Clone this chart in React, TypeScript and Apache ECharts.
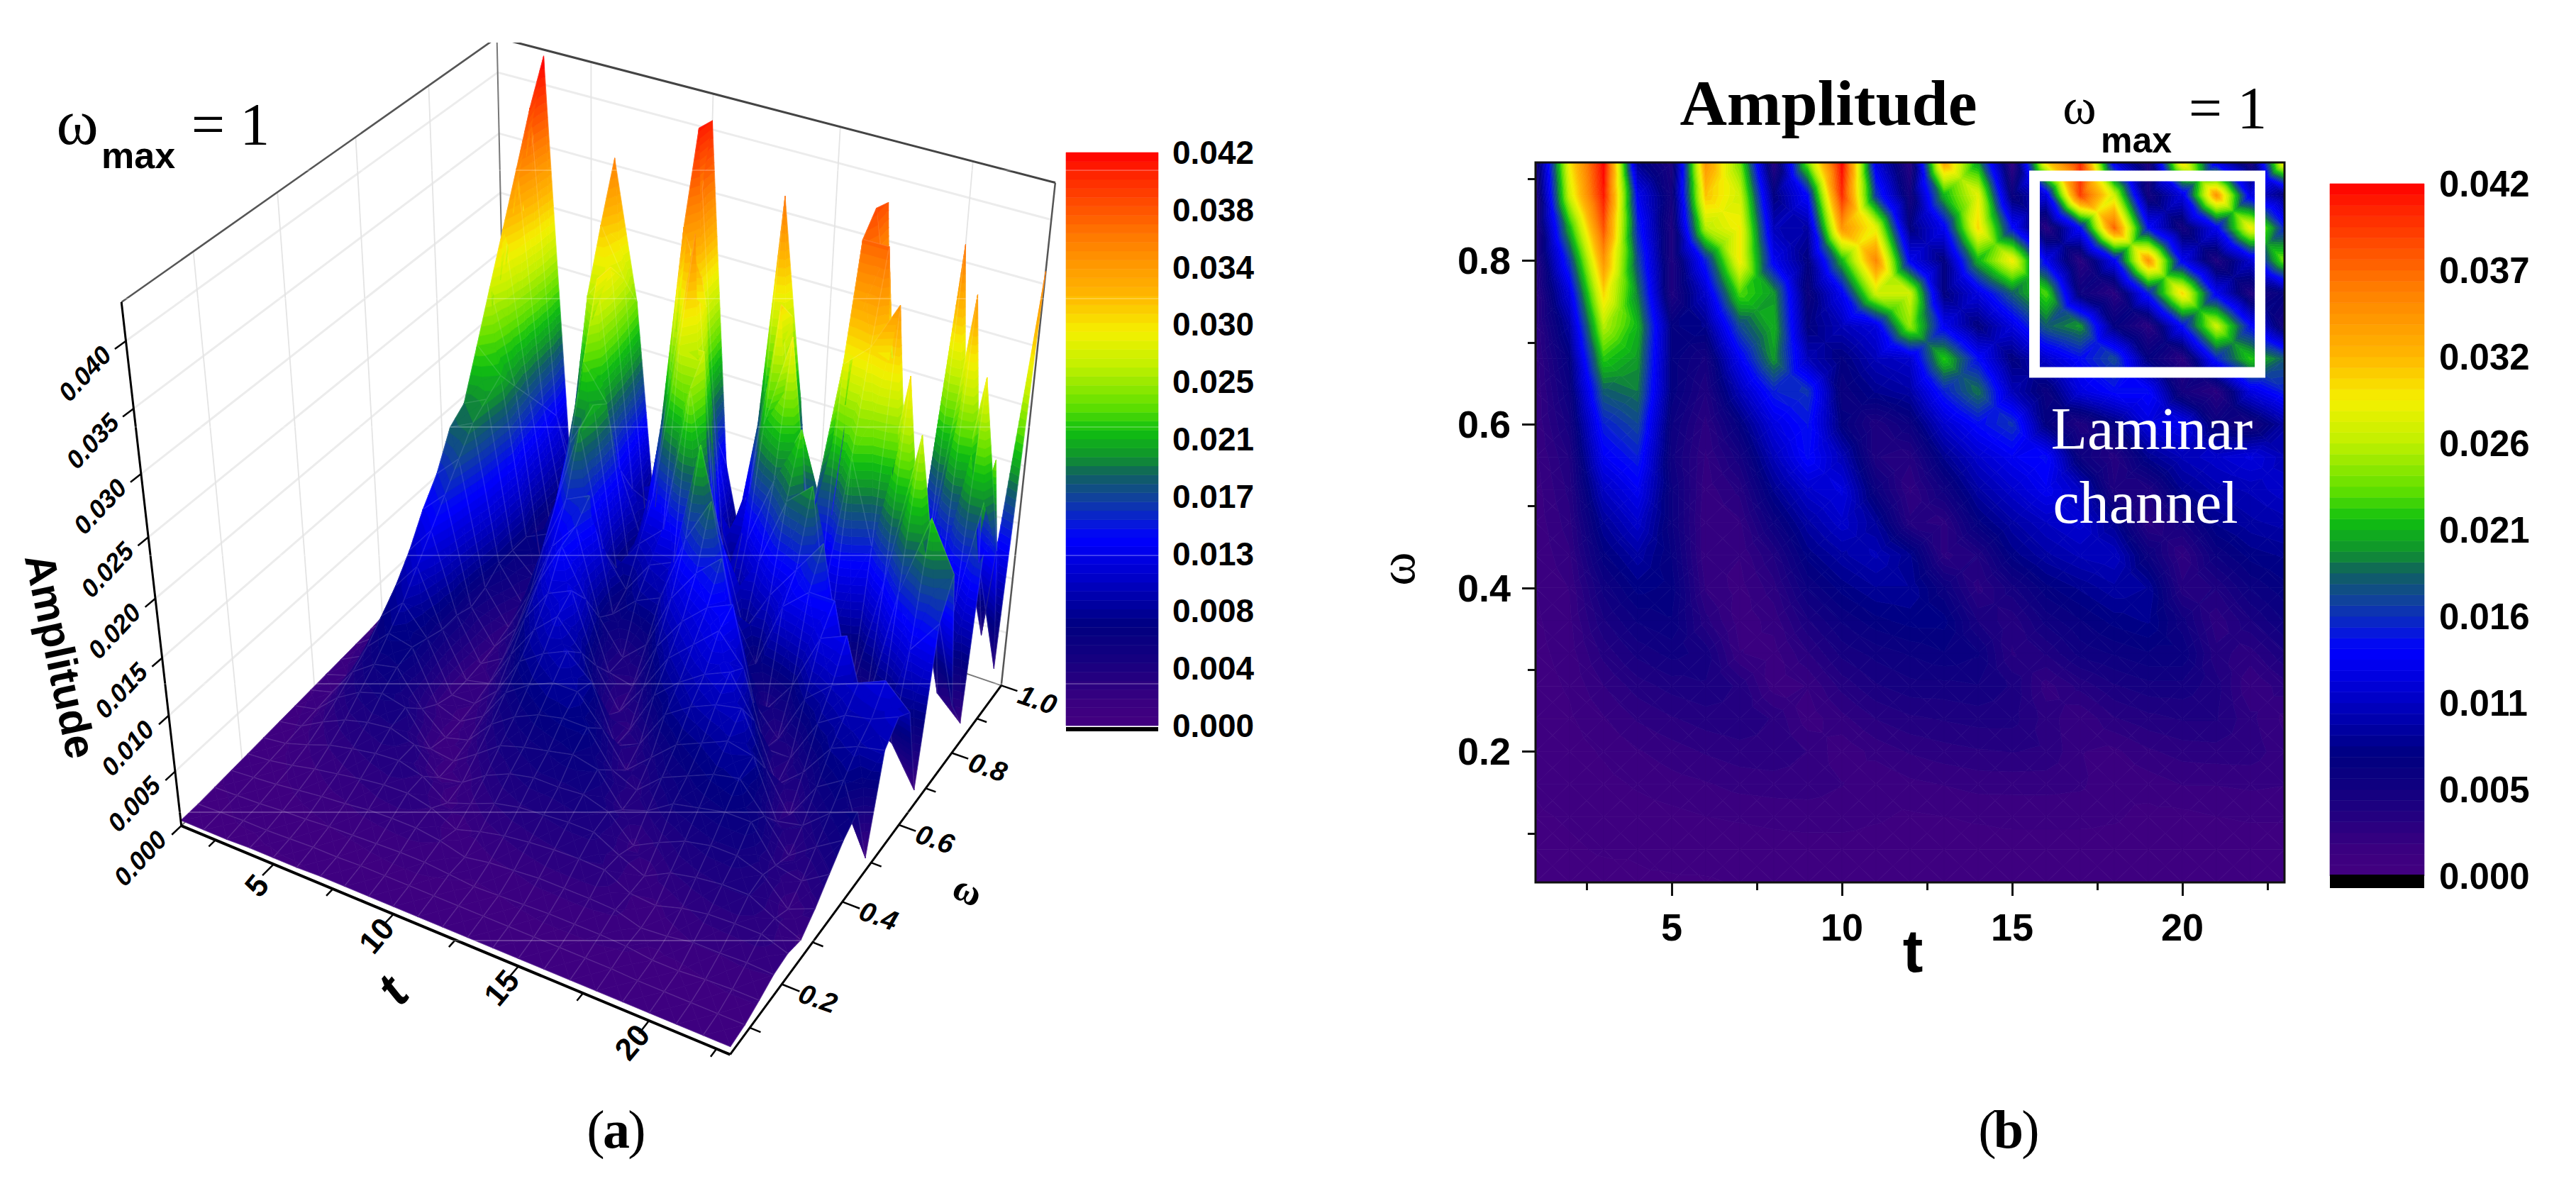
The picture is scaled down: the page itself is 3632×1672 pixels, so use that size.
import React, { useEffect, useRef } from "react";
import * as echarts from "echarts";

const tValues = [1, 2, 3, 4, 5, 6, 7, 8, 9, 10, 11, 12, 13, 14, 15, 16, 17, 18, 19, 20, 21, 22, 23];
const omegaHeatmap = [0.92, 0.88, 0.84, 0.8, 0.76, 0.72, 0.68, 0.64, 0.6, 0.56, 0.52, 0.48, 0.44, 0.4, 0.36, 0.32, 0.28, 0.24, 0.2, 0.16, 0.12, 0.08, 0.04];
const omegaSurface = [1, 0.956, 0.913, 0.869, 0.825, 0.782, 0.738, 0.695, 0.651, 0.607, 0.564, 0.52, 0.476, 0.433, 0.389, 0.345, 0.302, 0.258, 0.215, 0.171, 0.127, 0.084, 0.04];

// amplitude x 1000, one row per omega
const amplitude = [
  [4, 29, 42, 8, 4, 34, 24, 3, 24, 42, 12, 3, 33, 20, 2, 30, 40, 12, 4, 30, 12, 4, 30],
  [3, 27, 41, 13, 5, 31, 27, 7, 14, 40, 16, 5, 21, 28, 6, 12, 39, 27, 5, 12, 34, 12, 7],
  [3, 21, 38, 15, 4, 26, 29, 10, 9, 34, 28, 7, 13, 30, 14, 3, 14, 37, 14, 5, 13, 29, 15],
  [3, 16, 34, 17, 4, 15, 29, 13, 7, 21, 35, 13, 7, 21, 29, 13, 3, 13, 34, 13, 4, 11, 24],
  [2.5, 12, 30, 19, 4, 11, 23, 20, 6, 13, 27, 27, 7, 12, 18, 23, 6, 3, 15, 30, 13, 4, 7],
  [2.5, 9, 26, 21, 7, 8, 17, 21, 7, 10, 12, 25, 13, 7, 12, 18, 20, 7, 3, 14, 27, 14, 5],
  [2.2, 7, 22, 20, 7, 5, 13, 20, 10, 7, 10, 11, 22, 14, 7, 11, 14, 17, 7, 3, 15, 22, 18],
  [2, 6, 18, 19, 7, 4, 10, 15, 16, 6, 8, 9, 15, 19, 10, 6, 12, 14, 14, 5, 3, 12, 15],
  [2, 5, 15, 17, 6, 3, 7, 12, 14.5, 7, 4, 6, 11, 14, 16, 7, 4, 7, 12, 13, 6, 5, 9],
  [1.8, 4, 13, 15, 5.5, 2.5, 5, 10, 14, 10, 4, 3.5, 8, 11, 13, 14, 6, 3.5, 8, 10, 11, 12, 10],
  [1.6, 3.5, 10.5, 13, 6, 2.2, 3.5, 8, 11, 12, 6, 2.5, 5.5, 9, 11, 13, 10.5, 4, 4, 8, 9.5, 10, 11],
  [1.5, 3, 8.5, 11, 6, 2, 2.5, 6, 9, 11, 8.5, 3.5, 3, 7, 9, 10.5, 11.5, 8, 3, 5, 8, 9, 9.5],
  [1.4, 2.5, 7, 9, 6.5, 2, 2, 4, 7.5, 9, 10, 8, 3, 4, 7.5, 9, 10, 10.5, 6, 2.5, 6, 7.5, 8],
  [1.3, 2, 5.5, 7.5, 7, 2.5, 1.7, 3, 6, 7.5, 8.5, 8.5, 6, 3, 5, 7, 8, 9, 8.5, 3.5, 4, 6, 7],
  [1.2, 1.8, 4.5, 6, 6.5, 3.5, 1.6, 2.2, 4.5, 6, 7, 7.5, 7.5, 4.5, 3.5, 5.5, 6.5, 7.5, 8, 5.5, 2.8, 4.5, 6],
  [1.1, 1.6, 3.5, 4.8, 5.5, 5, 2, 1.7, 3.2, 4.8, 5.5, 6, 6.5, 6, 3.2, 4, 5.5, 6, 6.5, 6.5, 3.5, 3, 4.5],
  [1, 1.4, 2.6, 3.6, 4.2, 4.5, 3.8, 1.6, 2, 3.5, 4.5, 5, 5, 5.2, 4.5, 2.3, 3.5, 4.5, 5, 5, 4.2, 2, 3],
  [0.9, 1.2, 1.9, 2.7, 3.2, 3.6, 3.8, 3.2, 1.6, 2.4, 3.3, 3.8, 4, 4.2, 4.2, 3, 2, 3.2, 3.7, 4, 4, 2.8, 1.8],
  [0.8, 1, 1.4, 1.9, 2.3, 2.7, 3, 3.1, 2.6, 1.5, 2.2, 2.7, 3, 3.2, 3.3, 3.2, 2, 1.8, 2.5, 2.9, 3, 3, 2.2],
  [0.7, 0.9, 1.1, 1.4, 1.7, 1.9, 2.2, 2.3, 2.3, 2, 1.4, 1.8, 2, 2.2, 2.2, 2.2, 2.1, 1.4, 1.6, 2, 2, 2.1, 2],
  [0.6, 0.7, 0.8, 1, 1.1, 1.3, 1.4, 1.5, 1.6, 1.6, 1.4, 1.2, 1.3, 1.4, 1.5, 1.5, 1.5, 1.4, 1.1, 1.1, 1.3, 1.4, 1.4],
  [0.5, 0.6, 0.7, 0.7, 0.8, 0.9, 0.9, 1, 1, 1, 1, 1, 1, 1, 1, 1, 1, 1, 0.9, 0.9, 0.9, 0.9, 0.9],
  [0.5, 0.5, 0.5, 0.6, 0.6, 0.6, 0.7, 0.7, 0.7, 0.7, 0.7, 0.7, 0.7, 0.7, 0.7, 0.7, 0.7, 0.7, 0.7, 0.7, 0.7, 0.7, 0.7],
];
// where panel (a)'s surface reads differently from panel (b): [row, t, amplitude x 1000]
const surfaceReadings = [
  [0, 3, 42.3], [0, 6, 35.6], [0, 10, 40.7], [0, 13, 36.3], [0, 17, 38], [0, 20, 36.4], [0, 23, 36],
  [1, 3, 39], [1, 10, 41], [1, 17, 38.5], [1, 21, 34], [1, 23, 3],
  [2, 3, 35], [2, 17, 37], [3, 3, 31], [3, 17, 28], [3, 18, 30],
  [4, 3, 27], [4, 18, 22], [4, 23, 2], [5, 3, 23], [6, 3, 19], [8, 23, 1.5], [12, 23, 1.3],
];
const amplitudeSurface = amplitude.map((r) => r.slice());
surfaceReadings.forEach(([r, t, v]) => { amplitudeSurface[r][t - 1] = v; });

const colorbarLabelsA = ["0.000", "0.004", "0.008", "0.013", "0.017", "0.021", "0.025", "0.030", "0.034", "0.038", "0.042"];
const colorbarLabelsB = ["0.000", "0.005", "0.011", "0.016", "0.021", "0.026", "0.032", "0.037", "0.042"];

// colour ramp: [amplitude x 1000, r, g, b]
const colorStops = [
  [0, 66, 0, 128], [1.5, 60, 0, 128], [4.4, 26, 0, 128], [7.3, 0, 0, 128], [10.8, 0, 0, 200], [13.7, 0, 0, 255],
  [16.6, 16, 64, 160], [18.4, 16, 96, 96], [19.6, 16, 144, 48], [21.6, 16, 192, 16], [23.4, 96, 224, 0], [26.3, 192, 240, 0],
  [28.9, 245, 240, 0], [31.5, 255, 184, 0], [35.5, 255, 128, 0], [40.6, 255, 32, 0], [42, 255, 0, 0],
];
const BAND_COUNT = 64;
const BAND = 42 / BAND_COUNT;

function ramp(v: number) {
  for (let i = 1; i < colorStops.length; i++) {
    const a = colorStops[i - 1], b = colorStops[i];
    if (v <= b[0]) {
      const f = (v - a[0]) / (b[0] - a[0] || 1);
      const c = [1, 2, 3].map((k) => Math.round(a[k] + (b[k] - a[k]) * Math.max(0, f)));
      return `rgb(${c[0]},${c[1]},${c[2]})`;
    }
  }
  return "rgb(255,0,0)";
}

type V = number[]; // [t, omega, amp]
function clip(poly: V[], level: number, keepAbove: boolean) {
  const out: V[] = [];
  for (let i = 0; i < poly.length; i++) {
    const p = poly[i], q = poly[(i + 1) % poly.length];
    const pin = keepAbove ? p[2] >= level : p[2] <= level;
    const qin = keepAbove ? q[2] >= level : q[2] <= level;
    if (pin) out.push(p);
    if (pin !== qin) {
      const f = (level - p[2]) / (q[2] - p[2]);
      out.push([p[0] + (q[0] - p[0]) * f, p[1] + (q[1] - p[1]) * f, level]);
    }
  }
  return out;
}
function bands(tri: V[]) {
  const vals = tri.map((p) => p[2]);
  const lo = Math.floor(Math.min(...vals) / BAND), hi = Math.floor(Math.max(...vals) / BAND);
  const res: { pts: V[]; color: string }[] = [];
  for (let b = lo; b <= hi; b++) {
    let poly = clip(tri, b * BAND, true);
    if (poly.length) poly = clip(poly, (b + 1) * BAND, false);
    if (poly.length >= 3) res.push({ pts: poly, color: ramp((b + 0.5) * BAND) });
  }
  return res;
}
function triangles(omegas: number[], rows: number[][]) {
  const out: { v: V[]; edge: V[]; band: { pts: V[]; color: string }[] }[] = [];
  for (let i = 0; i < omegas.length - 1; i++) {
    for (let j = 0; j < tValues.length - 1; j++) {
      const a = [tValues[j], omegas[i], rows[i][j]];
      const b = [tValues[j + 1], omegas[i], rows[i][j + 1]];
      const c = [tValues[j + 1], omegas[i + 1], rows[i + 1][j + 1]];
      const d = [tValues[j], omegas[i + 1], rows[i + 1][j]];
      const m = [0, 1, 2].map((k) => (a[k] + b[k] + c[k] + d[k]) / 4);
      [[a, b], [b, c], [c, d], [d, a]].forEach(([p, q]) => {
        const v = [p, q, m];
        out.push({ v, edge: [p, q], band: bands(v) });
      });
    }
  }
  return out;
}

// ---- projection of the 3D box (a), fitted to where its corners and ticks sit in the picture
const OM0 = 0.04, OM1 = 1.0, T0 = 1, T1 = 23, ZTOP = 42.8;
const nx = (t: number) => (t - T0) / (T1 - T0);
const ny = (w: number) => (w - OM0) / (OM1 - OM0);
const nz = (z: number) => z / ZTOP;
const anchors: number[][] = [
  [0, 0, 0, 257, 1165], [1, 0, 0, 1027, 1485], [1, 1, 0, 1410, 965], [0, 0, 1, 172, 426], [0, 1, 1, 700, 50], [1, 1, 1, 1490, 256],
  [nx(5), 0, 0, 385, 1218], [nx(10), 0, 0, 553, 1289], [nx(15), 0, 0, 729, 1362], [nx(20), 0, 0, 911, 1440],
  [1, ny(0.2), 0, 1108, 1386], [1, ny(0.4), 0, 1188, 1274], [1, ny(0.6), 0, 1269, 1162], [1, ny(0.8), 0, 1343, 1061],
  [0, 0, nz(10), 241, 1013], [0, 0, nz(20), 218, 842], [0, 0, nz(30), 201, 666], [0, 0, nz(40), 176, 480],
  [nx(5), 1, 1, 833, 87], [nx(10), 1, 1, 1005, 135], [nx(15), 1, 1, 1183, 180], [nx(20), 1, 1, 1372, 230],
];
function fitCamera() {
  const n = 11;
  const A = Array.from({ length: n }, () => new Array(n + 1).fill(0));
  const add = (row: number[], rhs: number) => {
    for (let i = 0; i < n; i++) {
      for (let j = 0; j < n; j++) A[i][j] += row[i] * row[j];
      A[i][n] += row[i] * rhs;
    }
  };
  anchors.forEach(([X, Y, Z, px, py]) => {
    const u = px / 1000, v = py / 1000;
    add([X, Y, Z, 1, 0, 0, 0, 0, -u * X, -u * Y, -u * Z], u);
    add([0, 0, 0, 0, X, Y, Z, 1, -v * X, -v * Y, -v * Z], v);
  });
  for (let c = 0; c < n; c++) {
    let piv = c;
    for (let r = c + 1; r < n; r++) if (Math.abs(A[r][c]) > Math.abs(A[piv][c])) piv = r;
    [A[c], A[piv]] = [A[piv], A[c]];
    for (let r = 0; r < n; r++) {
      if (r === c) continue;
      const f = A[r][c] / A[c][c];
      for (let k = c; k <= n; k++) A[r][k] -= f * A[c][k];
    }
  }
  return A.map((r, i) => r[n] / r[i]);
}
const cam = fitCamera();
const camW = (X: number, Y: number, Z: number) => cam[8] * X + cam[9] * Y + cam[10] * Z + 1;
function project(X: number, Y: number, Z: number) {
  const w = camW(X, Y, Z);
  return [
    (1000 * (cam[0] * X + cam[1] * Y + cam[2] * Z + cam[3])) / w,
    (1000 * (cam[4] * X + cam[5] * Y + cam[6] * Z + cam[7])) / w,
  ];
}
const projV = (p: V) => project(nx(p[0]), ny(p[1]), nz(p[2]));

const trisB = triangles(omegaHeatmap, amplitude);
const farSign = camW(0, 1, 0) > camW(1, 0, 0) ? -1 : 1;
const trisA = triangles(omegaSurface, amplitudeSurface).map((tr) => {
  const w = tr.v.reduce((s, p) => s + camW(nx(p[0]), ny(p[1]), nz(p[2])), 0) / 3;
  return { ...tr, depth: w * farSign };
}).sort((a, b) => a.depth - b.depth);

type Seg = { a: number[]; b: number[]; color: string; width: number };
const wallSegs: Seg[] = [];
const axisSegs: Seg[] = [];
const zTicks = [5, 10, 15, 20, 25, 30, 35, 40];
const tTicks = [5, 10, 15, 20];
const tMinor = [2.5, 7.5, 12.5, 17.5, 22.5];
const omegaTicks = [0.2, 0.4, 0.6, 0.8, 1.0];
const omegaMinor = [0.1, 0.3, 0.5, 0.7, 0.9];
zTicks.forEach((z) => {
  wallSegs.push({ a: [0, 0, nz(z)], b: [0, 1, nz(z)], color: "#ececec", width: 3 });
  wallSegs.push({ a: [0, 1, nz(z)], b: [1, 1, nz(z)], color: "#ececec", width: 3 });
  axisSegs.push({ a: [0, 0, nz(z)], b: [0, -0.025, nz(z)], color: "#000", width: 2.5 });
});
axisSegs.push({ a: [0, 0, 0], b: [0, -0.025, 0], color: "#000", width: 2.5 });
tTicks.forEach((t) => {
  wallSegs.push({ a: [nx(t), 1, 0], b: [nx(t), 1, 1], color: "#e4e4e4", width: 1.8 });
  axisSegs.push({ a: [nx(t), 0, 0], b: [nx(t), -0.03, 0], color: "#000", width: 2.5 });
});
tMinor.forEach((t) => axisSegs.push({ a: [nx(t), 0, 0], b: [nx(t), -0.018, 0], color: "#000", width: 2.5 }));
omegaTicks.forEach((w) => {
  if (w < 1) wallSegs.push({ a: [0, ny(w), 0], b: [0, ny(w), 1], color: "#e4e4e4", width: 1.8 });
  axisSegs.push({ a: [1, ny(w), 0], b: [1.03, ny(w), 0], color: "#000", width: 2.5 });
});
omegaMinor.forEach((w) => axisSegs.push({ a: [1, ny(w), 0], b: [1.018, ny(w), 0], color: "#000", width: 2.5 }));
wallSegs.push({ a: [0, 1, 1], b: [0, 1, 0], color: "#777", width: 2 });
wallSegs.push({ a: [0, 1, 0], b: [1, 1, 0], color: "#777", width: 2 });
wallSegs.push({ a: [0, 1, 0], b: [0, 0, 0], color: "#777", width: 2 });
wallSegs.push({ a: [0, 0, 1], b: [0, 1, 1], color: "#555", width: 2.5 });
wallSegs.push({ a: [0, 1, 1], b: [1, 1, 1], color: "#444", width: 3 });
wallSegs.push({ a: [1, 1, 1], b: [1, 1, 0], color: "#555", width: 2.5 });
axisSegs.push({ a: [0, 0, 0], b: [0, 0, 1], color: "#000", width: 3 });
axisSegs.push({ a: [0, 0, 0], b: [1, 0, 0], color: "#000", width: 4 });
axisSegs.push({ a: [1, 0, 0], b: [1, 1, 0], color: "#000", width: 3 });

const SANS = '"Liberation Sans", Arial, sans-serif';
const SERIF = '"Liberation Serif", "Times New Roman", serif';
function txt(text: string, x: number, y: number, size: number, family: string, o: any = {}) {
  return {
    type: "text", x, y, rotation: o.rotation || 0, z: 60, silent: true,
    style: {
      text, fontSize: size, fontFamily: family, fontWeight: o.weight || "normal", fontStyle: o.italic ? "italic" : "normal",
      fill: o.fill || "#000", textAlign: o.align || "center", textVerticalAlign: "middle",
    },
  };
}
const D2R = Math.PI / 180;

function graphics() {
  const g: any[] = [];
  // mask where the box corner leaves the picture
  g.push({ type: "rect", z: 55, silent: true, shape: { x: 600, y: 0, width: 200, height: 60 }, style: { fill: "#fff" } });
  // (a) titles
  g.push(txt("ω", 109, 172, 90, SERIF));
  g.push(txt("max", 143, 219, 52, SANS, { weight: "bold", align: "left" }));
  g.push(txt("= 1", 325, 175, 84, SERIF));
  g.push(txt("Amplitude", 85, 925, 60, SANS, { weight: "bold", rotation: -78 * D2R }));
  // z tick labels
  [0, ...zTicks].forEach((z) => {
    const p = project(0, 0, nz(z));
    g.push(txt((z / 1000).toFixed(3), p[0] - 58, p[1] + 46, 36, SANS, { weight: "bold", italic: true, rotation: 47 * D2R }));
  });
  tTicks.forEach((t) => {
    const p = project(nx(t), 0, 0);
    g.push(txt(String(t), p[0] - 24, p[1] + 30, 44, SANS, { weight: "bold", rotation: 50 * D2R }));
  });
  g.push(txt("t", 553, 1396, 72, SANS, { weight: "bold", italic: true, rotation: 50 * D2R }));
  omegaTicks.forEach((w) => {
    const p = project(1, ny(w), 0);
    g.push(txt(w.toFixed(1), p[0] + 51, p[1] + 20, 39, SANS, { weight: "bold", italic: true, rotation: -19 * D2R }));
  });
  g.push(txt("ω", 1365, 1255, 54, SERIF, { weight: "bold", rotation: -25 * D2R }));
  g.push({ type: "rect", z: 40, silent: true, shape: { x: 1503, y: 1025, width: 130, height: 6 }, style: { fill: "#000" } });
  g.push(txt("(", 840, 1592, 76, SERIF));
  g.push(txt("a", 869, 1592, 76, SERIF, { weight: "bold" }));
  g.push(txt(")", 898, 1592, 76, SERIF));
  // scan seams that cross panel (a)
  [240, 421, 602, 783, 964, 1145, 1326].forEach((y) =>
    g.push({ type: "line", z: 50, silent: true, shape: { x1: 150, y1: y, x2: 1640, y2: y }, style: { stroke: "rgba(255,255,255,0.3)", lineWidth: 1.5 } })
  );
  // (b)
  g.push({ type: "rect", z: 45, silent: true, shape: { x: 2165, y: 229, width: 1056, height: 1015 }, style: { fill: "none", stroke: "#111", lineWidth: 3 } });
  g.push(txt("Amplitude", 2578, 145, 92, SERIF, { weight: "bold" }));
  g.push(txt("ω", 2932, 150, 72, SERIF));
  g.push(txt("max", 2962, 198, 50, SANS, { weight: "bold", align: "left" }));
  g.push(txt("= 1", 3141, 152, 84, SERIF));
  g.push(txt("t", 2697, 1340, 86, SANS, { weight: "bold" }));
  g.push(txt("ω", 1970, 802, 72, SERIF, { rotation: 90 * D2R }));
  g.push({ type: "rect", z: 50, silent: true, shape: { x: 2868.5, y: 248, width: 318, height: 277 }, style: { fill: "none", stroke: "#fff", lineWidth: 15 } });
  g.push(txt("Laminar", 3034, 604, 84, SERIF, { fill: "#fff" }));
  g.push(txt("channel", 3025, 708, 84, SERIF, { fill: "#fff" }));
  g.push({ type: "rect", z: 40, silent: true, shape: { x: 3285, y: 1233, width: 133, height: 19 }, style: { fill: "#000" } });
  g.push(txt("(", 2802, 1592, 76, SERIF));
  g.push(txt("b", 2832, 1592, 76, SERIF, { weight: "bold" }));
  g.push(txt(")", 2863, 1592, 76, SERIF));
  return g;
}

const bandEdges = Array.from({ length: BAND_COUNT }, (_, i) => i);

function colorbarSeries(xAxisIndex: number, yAxisIndex: number) {
  return {
    type: "custom", xAxisIndex, yAxisIndex, silent: true, z: 3,
    data: bandEdges.map((b) => [0, ((b + 0.5) * BAND) / 1000]),
    renderItem: (params: any, api: any) => {
      const b = bandEdges[params.dataIndex];
      const p0 = api.coord([0, (b * BAND) / 1000]);
      const p1 = api.coord([1, ((b + 1) * BAND) / 1000]);
      const c = ramp((b + 0.5) * BAND);
      return { type: "rect", shape: { x: p0[0], y: p1[1], width: p1[0] - p0[0], height: p0[1] - p1[1] }, style: { fill: c, stroke: c, lineWidth: 0.6 } };
    },
  };
}

function hiddenAxis(gridIndex: number, extra: any = {}) {
  return { type: "value", gridIndex, min: 0, max: 1, show: false, ...extra };
}

const axisFont = { fontFamily: SANS, fontWeight: "bold", color: "#000" };

function buildOption() {
  return {
    animation: false,
    backgroundColor: "#fff",
    graphic: { elements: graphics() },
    grid: [
      { left: 1503, top: 215, width: 130, height: 808 },
      { left: 3285, top: 259, width: 133, height: 976 },
      { left: 2165, top: 229, width: 1056, height: 1015 },
    ],
    xAxis: [
      hiddenAxis(0),
      hiddenAxis(1),
      {
        type: "value", gridIndex: 2, position: "bottom", min: 1, max: 23, splitLine: { show: false },
        axisLine: { show: false },
        axisTick: { show: true, length: 19, inside: false, customValues: tTicks, lineStyle: { color: "#111", width: 3 } },
        axisLabel: { show: true, customValues: tTicks, margin: 36, fontSize: 54, ...axisFont },
      },
      {
        type: "value", gridIndex: 2, position: "bottom", min: 1, max: 23, splitLine: { show: false },
        axisLine: { show: false },
        axisTick: { show: true, length: 11, customValues: tMinor, lineStyle: { color: "#111", width: 3 } },
        axisLabel: { show: false },
      },
    ],
    yAxis: [
      {
        type: "value", gridIndex: 0, position: "right", min: 0, max: 0.042, interval: 0.0042, splitLine: { show: false },
        axisLine: { show: false }, axisTick: { show: false },
        axisLabel: { margin: 20, fontSize: 46, ...axisFont, formatter: (_: number, i: number) => colorbarLabelsA[i] },
      },
      {
        type: "value", gridIndex: 1, position: "right", min: 0, max: 0.042, interval: 0.00525, splitLine: { show: false },
        axisLine: { show: false }, axisTick: { show: false },
        axisLabel: { margin: 21, fontSize: 51, ...axisFont, formatter: (_: number, i: number) => colorbarLabelsB[i] },
      },
      {
        type: "value", gridIndex: 2, position: "left", min: 0.04, max: 0.92, splitLine: { show: false },
        axisLine: { show: false },
        axisTick: { show: true, length: 19, customValues: [0.2, 0.4, 0.6, 0.8], lineStyle: { color: "#111", width: 3 } },
        axisLabel: { show: true, customValues: [0.2, 0.4, 0.6, 0.8], margin: 35, fontSize: 54, ...axisFont, formatter: (v: number) => v.toFixed(1) },
      },
      {
        type: "value", gridIndex: 2, position: "left", min: 0.04, max: 0.92, splitLine: { show: false },
        axisLine: { show: false },
        axisTick: { show: true, length: 11, customValues: omegaMinor, lineStyle: { color: "#111", width: 3 } },
        axisLabel: { show: false },
      },
    ],
    series: [
      colorbarSeries(0, 0),
      colorbarSeries(1, 1),
      {
        type: "custom", name: "Amplitude (b)", xAxisIndex: 2, yAxisIndex: 2, silent: true, z: 2,
        encode: { x: 0, y: 1 },
        data: trisB.map((tr) => [tr.v[2][0], tr.v[2][1], tr.v[2][2] / 1000]),
        renderItem: (params: any, api: any) => {
          const tr = trisB[params.dataIndex];
          return {
            type: "group",
            children: tr.band.map((b) => ({
              type: "polygon",
              shape: { points: b.pts.map((p) => api.coord([p[0], p[1]])) },
              style: { fill: b.color, stroke: b.color, lineWidth: 0.7 },
            })),
          };
        },
      },
      {
        type: "custom", name: "walls", coordinateSystem: "none", silent: true, z: 1,
        data: wallSegs.map((_, i) => [i]),
        renderItem: (params: any) => {
          const s = wallSegs[params.dataIndex];
          const a = project(s.a[0], s.a[1], s.a[2]), b = project(s.b[0], s.b[1], s.b[2]);
          return { type: "line", shape: { x1: a[0], y1: a[1], x2: b[0], y2: b[1] }, style: { stroke: s.color, lineWidth: s.width } };
        },
      },
      {
        type: "custom", name: "Amplitude (a)", coordinateSystem: "none", silent: true, z: 2,
        data: trisA.map((tr) => [tr.v[2][0], tr.v[2][1], tr.v[2][2] / 1000]),
        renderItem: (params: any) => {
          const tr = trisA[params.dataIndex];
          const children: any[] = tr.band.map((b) => ({
            type: "polygon",
            shape: { points: b.pts.map(projV) },
            style: { fill: b.color, stroke: b.color, lineWidth: 0.7 },
          }));
          const e0 = projV(tr.edge[0]), e1 = projV(tr.edge[1]);
          children.push({ type: "line", shape: { x1: e0[0], y1: e0[1], x2: e1[0], y2: e1[1] }, style: { stroke: "rgba(255,255,255,0.1)", lineWidth: 1.5 } });
          return { type: "group", children };
        },
      },
      {
        type: "custom", name: "axes", coordinateSystem: "none", silent: true, z: 3,
        data: axisSegs.map((_, i) => [i]),
        renderItem: (params: any) => {
          const s = axisSegs[params.dataIndex];
          const a = project(s.a[0], s.a[1], s.a[2]), b = project(s.b[0], s.b[1], s.b[2]);
          return { type: "line", shape: { x1: a[0], y1: a[1], x2: b[0], y2: b[1] }, style: { stroke: s.color, lineWidth: s.width } };
        },
      },
    ],
  };
}

export default function App() {
  const ref = useRef<HTMLDivElement>(null);
  useEffect(() => {
    document.body.style.margin = "0";
    const chart = echarts.init(ref.current!, undefined, { renderer: "svg" });
    chart.setOption(buildOption() as any);
    return () => chart.dispose();
  }, []);
  return <div ref={ref} style={{ position: "fixed", left: 0, top: 0, width: 3632, height: 1672 }} />;
}
